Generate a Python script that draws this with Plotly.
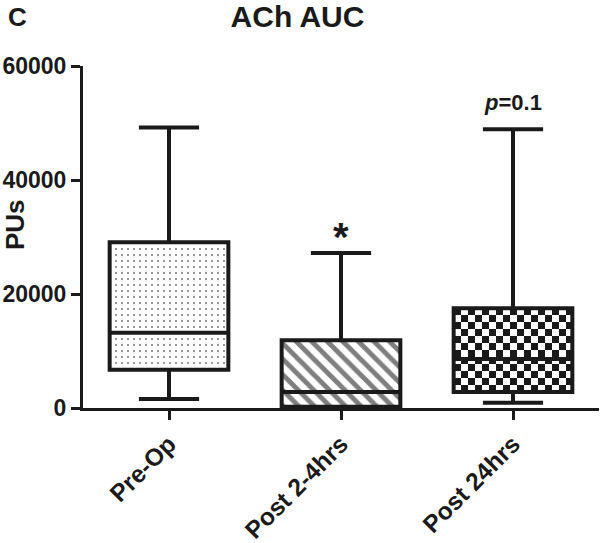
import numpy as np
import plotly.graph_objects as go

# ---- data ----
categories = ["Pre-Op", "Post 2-4hrs", "Post 24hrs"]
mins    = [1600, 100, 900]
q1s     = [6700, 200, 2800]
medians = [13200, 2800, 8600]
q3s     = [29100, 11900, 17500]
maxs    = [49200, 27200, 48900]
y_ticks = [0, 20000, 40000, 60000]

FONT = "Liberation Sans, Arial, Helvetica, sans-serif"
INK = "#1a1a1a"
BOX_W = 0.69
CAP_W = 0.35
LW = 4

W, H = 600, 543
L, T = 83, 66
R = W - 599
B = H - 408
PW, PH = W - L - R, H - T - B

xs = list(range(len(categories)))
fig = go.Figure()

# checkerboard texture for the third box (heatmap beneath the outline)
i3 = 2
left, right = xs[i3] - BOX_W / 2, xs[i3] + BOX_W / 2
nx = 17
ny = 12
dx = (right - left) / nx
dy = (q3s[i3] - q1s[i3]) / ny
z = [[(r + c) % 2 for c in range(nx)] for r in range(ny)]
fig.add_trace(go.Heatmap(
    z=z, x0=left + dx / 2, dx=dx, y0=q1s[i3] + dy / 2, dy=dy,
    colorscale=[[0, "white"], [1, INK]], showscale=False,
    zsmooth=False, hoverinfo="skip"))

patterns = [
    dict(shape=".", size=6, solidity=0.1, fgcolor="black", bgcolor="white"),
    dict(shape="\\", size=11, solidity=0.45, fgcolor="black", bgcolor="white"),
    None,
]
for i in xs:
    marker = dict(line=dict(color=INK, width=LW))
    if patterns[i] is None:
        marker["color"] = "rgba(0,0,0,0)"
    else:
        marker["color"] = "white"
        marker["pattern"] = patterns[i]
    fig.add_trace(go.Bar(
        x=[xs[i]], y=[q3s[i] - q1s[i]], base=[q1s[i]], width=BOX_W,
        marker=marker, hoverinfo="skip"))

# whiskers + caps
wx, wy = [], []
for i in xs:
    wx += [i, i, None, i, i, None,
           i - CAP_W / 2, i + CAP_W / 2, None, i - CAP_W / 2, i + CAP_W / 2, None]
    wy += [q3s[i], maxs[i], None, q1s[i], mins[i], None,
           maxs[i], maxs[i], None, mins[i], mins[i], None]
fig.add_trace(go.Scatter(x=wx, y=wy, mode="lines",
                         line=dict(color=INK, width=LW), hoverinfo="skip"))

# medians
mx, my = [], []
for i in xs:
    mx += [i - BOX_W / 2, i + BOX_W / 2, None]
    my += [medians[i], medians[i], None]
fig.add_trace(go.Scatter(x=mx, y=my, mode="lines",
                         line=dict(color=INK, width=LW), hoverinfo="skip"))

fig.update_layout(
    width=W, height=H,
    margin=dict(l=L, r=R, t=T, b=B, autoexpand=False),
    plot_bgcolor="white", paper_bgcolor="white",
    showlegend=False, barmode="overlay",
    font=dict(family=FONT, color=INK),
    title=dict(text="ACh AUC", x=297.5 / W, xanchor="center", xref="container",
               y=1 - 16 / H, yanchor="middle", yref="container",
               font=dict(size=30, weight=700, family=FONT, color=INK)),
)

fig.update_xaxes(
    range=[-0.5, 2.5], tickmode="array", tickvals=xs, ticktext=categories,
    tickangle=-45, showline=True, linecolor=INK, linewidth=3,
    ticks="outside", ticklen=9, tickwidth=3, tickcolor=INK,
    showgrid=False, zeroline=False, automargin=False,
    tickfont=dict(size=24.5, weight=700, family=FONT, color=INK))
fig.update_yaxes(
    range=[0, 60000], tickmode="array", tickvals=y_ticks,
    ticktext=[str(v) for v in y_ticks],
    showline=True, linecolor=INK, linewidth=3,
    ticks="outside", ticklen=9, tickwidth=3, tickcolor=INK,
    showgrid=False, zeroline=False, automargin=False,
    tickfont=dict(size=23, weight=700, family=FONT, color=INK))

def px_to_paper(px, py):
    return (px - L) / PW, 1 - (py - T) / PH

x0, y0 = px_to_paper(15, 225)
fig.add_annotation(text="PUs", xref="paper", yref="paper", x=x0, y=y0,
                   textangle=-90, showarrow=False, xanchor="center", yanchor="middle",
                   font=dict(size=26, weight=700, family=FONT, color=INK))
x0, y0 = px_to_paper(17, 17)
fig.add_annotation(text="C", xref="paper", yref="paper", x=x0, y=y0,
                   showarrow=False, xanchor="center", yanchor="middle",
                   font=dict(size=26, weight=700, family=FONT, color=INK))
fig.add_annotation(text="*", x=1, y=maxs[1], xref="x", yref="y",
                   showarrow=False, xanchor="center", yanchor="bottom", yshift=-8,
                   font=dict(size=40, weight=700, family=FONT, color=INK))
fig.add_annotation(text="<i>p</i>=0.1", x=2, y=maxs[2], xref="x", yref="y",
                   showarrow=False, xanchor="center", yanchor="bottom", yshift=12,
                   font=dict(size=22, weight=700, family=FONT, color=INK))

fig.write_html("out.html", config={"displayModeBar": False},
               post_script="document.body.style.margin='0';")
